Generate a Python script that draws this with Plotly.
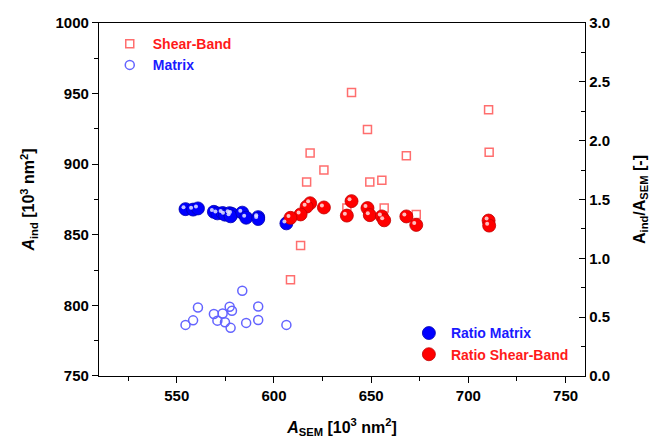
import plotly.graph_objects as go

# ---- data ----
matrix_sem = [554.5, 558.4, 560.9, 569.1, 570.9, 573.6, 574.8, 577.2, 578.4, 577.7, 583.7, 585.7, 591.9, 591.9, 606.4]
matrix_ind = [786.2, 789.4, 798.5, 793.9, 789.2, 794.3, 788.0, 799.0, 796.2, 784.1, 810.4, 787.6, 799.2, 789.7, 786.2]
matrix_ratio = [1.418, 1.414, 1.424, 1.395, 1.382, 1.385, 1.371, 1.384, 1.377, 1.357, 1.388, 1.345, 1.350, 1.334, 1.297]

shear_sem = [639.9, 710.4, 648.1, 618.6, 710.7, 668.1, 625.7, 616.8, 649.3, 655.5, 637.5, 656.7, 673.2, 613.7, 608.5]
shear_ind = [950.8, 938.6, 924.6, 908.0, 908.5, 906.0, 895.9, 887.3, 887.3, 888.7, 869.0, 869.0, 864.4, 842.4, 818.1]
shear_ratio = [1.486, 1.321, 1.427, 1.468, 1.278, 1.356, 1.432, 1.439, 1.367, 1.356, 1.363, 1.323, 1.284, 1.373, 1.344]

x_range = [510, 760]
y_range = [750, 1000]
y2_range = [0, 3.0]

# ---- layout geometry ----
W, H = 667, 446
ML, MR, MT, MB = 97, 82, 13, 70
pw = W - ML - MR
ph = H - MT - MB
dx = 2.0 / pw
dy = 2.0 / ph

FONT = "Liberation Sans, Arial, sans-serif"
tickfont = dict(family=FONT, size=15, color="black", weight=700)
titlefont = dict(family=FONT, size=16, color="black", weight=700)
legfont = dict(family=FONT, size=14, weight=700)

fig = go.Figure()

fig.add_trace(go.Scatter(
    x=shear_sem, y=shear_ind, mode="markers",
    name="<span style='color:#ff1a1a'>Shear-Band</span>",
    marker=dict(symbol="square-open", size=8, color="rgb(255,110,110)", line=dict(width=1.5)),
    legend="legend", xaxis="x", yaxis="y"))
fig.add_trace(go.Scatter(
    x=matrix_sem, y=matrix_ind, mode="markers",
    name="<span style='color:#1a1aff'>Matrix</span>",
    marker=dict(symbol="circle-open", size=9, color="rgb(100,100,255)", line=dict(width=1.5)),
    legend="legend", xaxis="x", yaxis="y"))

fig.add_trace(go.Scatter(
    x=matrix_sem, y=matrix_ratio, mode="markers",
    name="<span style='color:#1a1aff'>Ratio Matrix</span>",
    marker=dict(symbol="circle", size=13, color="#0000ff", line=dict(width=0.8, color="#0000b0")),
    legend="legend2", xaxis="x", yaxis="y2"))
fig.add_trace(go.Scatter(
    x=shear_sem, y=shear_ratio, mode="markers",
    name="<span style='color:#ff1a1a'>Ratio Shear-Band</span>",
    marker=dict(symbol="circle", size=13, color="#ff0000", line=dict(width=0.8, color="#c00000")),
    legend="legend2", xaxis="x", yaxis="y2"))

# small highlights on the spheres (drawn on an invisible, slightly shifted axis pair)
fig.add_trace(go.Scatter(
    x=matrix_sem, y=matrix_ratio, mode="markers", showlegend=False, hoverinfo="skip",
    marker=dict(symbol="circle", size=4, color="rgba(230,230,255,0.85)", line=dict(width=0)),
    xaxis="x3", yaxis="y3"))
fig.add_trace(go.Scatter(
    x=shear_sem, y=shear_ratio, mode="markers", showlegend=False, hoverinfo="skip",
    marker=dict(symbol="circle", size=4, color="rgba(255,225,225,0.85)", line=dict(width=0)),
    xaxis="x3", yaxis="y3"))

fig.update_layout(
    width=W, height=H,
    margin=dict(l=ML, r=MR, t=MT, b=MB),
    paper_bgcolor="white", plot_bgcolor="rgba(0,0,0,0)",
    xaxis=dict(
        domain=[dx, 1], range=x_range, tickvals=[550, 600, 650, 700, 750],
        ticks="outside", ticklen=6, tickwidth=1.2, tickcolor="black",
        minor=dict(ticks="outside", ticklen=4, dtick=25, tick0=525, tickcolor="black", showgrid=False),
        showline=True, linecolor="black", linewidth=1.3, mirror=True,
        showgrid=False, zeroline=False, tickfont=tickfont,
        title=dict(text="<i>A</i><sub>SEM</sub> [10<sup>3</sup> nm<sup>2</sup>]", font=titlefont, standoff=18),
    ),
    yaxis=dict(
        domain=[0, 1 - dy], range=y_range, tickvals=[750, 800, 850, 900, 950, 1000],
        ticks="outside", ticklen=6, tickwidth=1.2, tickcolor="black",
        minor=dict(ticks="outside", ticklen=4, dtick=25, tick0=775, tickcolor="black", showgrid=False),
        showline=True, linecolor="black", linewidth=1.3,
        showgrid=False, zeroline=False, tickfont=tickfont,
        title=dict(text="<i>A</i><sub>ind</sub> [10<sup>3</sup> nm<sup>2</sup>]", font=titlefont, standoff=16),
    ),
    yaxis2=dict(
        domain=[0, 1 - dy], range=y2_range, overlaying="y", side="right", anchor="x",
        tickvals=[0, 0.5, 1.0, 1.5, 2.0, 2.5, 3.0], tickformat=".1f",
        ticks="inside", ticklen=6, tickwidth=1.2, tickcolor="black",
        minor=dict(ticks="inside", ticklen=4, dtick=0.25, tick0=0.25, tickcolor="black", showgrid=False),
        showline=True, linecolor="black", linewidth=1.3,
        showgrid=False, zeroline=False, tickfont=tickfont,
        title=dict(text="A<sub>ind</sub>/A<sub>SEM</sub> [-]", font=titlefont, standoff=24),
    ),
    xaxis3=dict(domain=[0, 1 - dx], range=x_range, visible=False, anchor="y3", showgrid=False),
    yaxis3=dict(domain=[dy, 1], range=y2_range, visible=False, anchor="x3", showgrid=False),
    legend=dict(
        x=0.02, y=0.98, xanchor="left", yanchor="top",
        bgcolor="rgba(0,0,0,0)", borderwidth=0, itemwidth=36,
        font=legfont, itemsizing="trace", tracegroupgap=0,
    ),
    legend2=dict(
        x=0.635, y=0.165, xanchor="left", yanchor="top",
        bgcolor="rgba(0,0,0,0)", borderwidth=0, itemwidth=34,
        font=legfont, itemsizing="trace", tracegroupgap=0,
    ),
    showlegend=True,
)

fig.write_html("out.html")
